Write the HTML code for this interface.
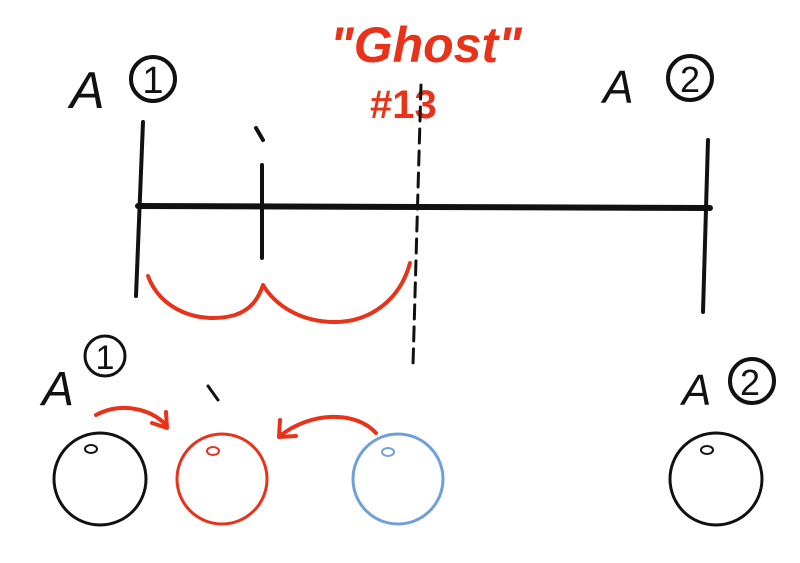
<!DOCTYPE html>
<html><head><meta charset="utf-8"><style>
html,body{margin:0;padding:0;background:#fff;}
svg{display:block;}
text{font-family:"Liberation Sans",sans-serif;}
</style></head><body>
<svg width="800" height="563" viewBox="0 0 800 563">
<g fill="none" stroke-linecap="round" stroke-linejoin="round">
  <!-- top labels -->
  <text x="70" y="108" font-size="52" fill="#111" font-style="italic">A</text>
  <circle cx="153" cy="79" r="22" stroke="#111" stroke-width="4"/>
  <text x="153" y="93" font-size="38" fill="#111" text-anchor="middle">1</text>
  <text x="603" y="103" font-size="46" fill="#111" font-style="italic">A</text>
  <circle cx="690" cy="78" r="22" stroke="#111" stroke-width="4"/>
  <text x="690" y="92" font-size="36" fill="#111" text-anchor="middle">2</text>
  <text x="330" y="62" font-size="50" fill="#e8321a" font-style="italic" font-weight="bold">"Ghost"</text>
  <text x="370" y="118" font-size="40" fill="#e8321a" font-weight="bold">#13</text>

  <!-- timeline -->
  <path d="M138 206 L710 208" stroke="#111" stroke-width="6"/>
  <path d="M143 122 L136 296" stroke="#111" stroke-width="4"/>
  <path d="M708 140 L703 312" stroke="#111" stroke-width="4"/>
  <path d="M262 165 L262 258" stroke="#111" stroke-width="4"/>
  <path d="M256 128 L263 140" stroke="#111" stroke-width="4"/>
  <path d="M421 85 L413 365" stroke="#111" stroke-width="3" stroke-dasharray="14 8"/>
  <path d="M148 276 C160 310 200 325 235 315 C250 310 258 300 263 285 C275 305 300 322 335 322 C370 322 400 300 410 263" stroke="#e8321a" stroke-width="4"/>

  <!-- bottom labels -->
  <text x="42" y="405" font-size="48" fill="#111" font-style="italic">A</text>
  <circle cx="105" cy="356" r="20" stroke="#111" stroke-width="3"/>
  <text x="105" y="369" font-size="34" fill="#111" text-anchor="middle">1</text>
  <text x="682" y="405" font-size="44" fill="#111" font-style="italic">A</text>
  <circle cx="752" cy="381" r="22" stroke="#111" stroke-width="4"/>
  <text x="750" y="395" font-size="36" fill="#111" text-anchor="middle">2</text>
  <path d="M208 386 L218 400" stroke="#111" stroke-width="3"/>

  <!-- arrows -->
  <path d="M96 415 C120 402 150 408 166 425" stroke="#e8321a" stroke-width="4"/>
  <path d="M152 423 L167 428 L166 412" stroke="#e8321a" stroke-width="4"/>
  <path d="M376 433 C355 410 310 412 280 436" stroke="#e8321a" stroke-width="4"/>
  <path d="M280 420 L279 437 L296 436" stroke="#e8321a" stroke-width="4"/>

  <!-- balls -->
  <circle cx="100" cy="479" r="46" stroke="#111" stroke-width="3"/>
  <ellipse cx="91" cy="449" rx="6" ry="4" stroke="#111" stroke-width="2"/>
  <circle cx="222" cy="479" r="45" stroke="#e8321a" stroke-width="3"/>
  <ellipse cx="213" cy="451" rx="6" ry="4" stroke="#e8321a" stroke-width="2"/>
  <circle cx="398" cy="479" r="45" stroke="#6fa0d8" stroke-width="3"/>
  <ellipse cx="388" cy="452" rx="6" ry="4" stroke="#6fa0d8" stroke-width="2"/>
  <circle cx="716" cy="479" r="46" stroke="#111" stroke-width="3"/>
  <ellipse cx="707" cy="450" rx="6" ry="4" stroke="#111" stroke-width="2"/>
</g>
</svg>
</body></html>
